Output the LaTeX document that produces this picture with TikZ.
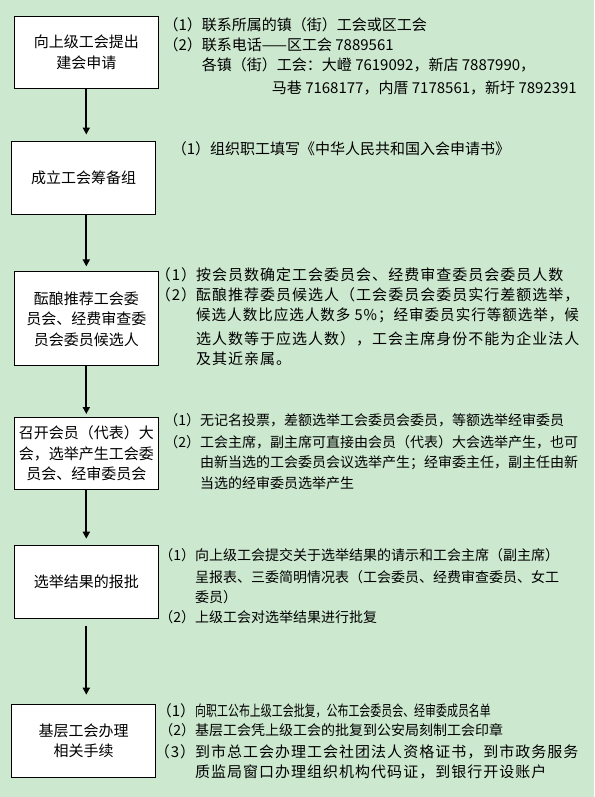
\documentclass[tikz,border=0pt]{standalone}
\usepackage{fontspec}
\usepackage{graphicx}
\newfontfamily\cjk{Noto Sans CJK SC}
\newfontfamily\cjkwide[LetterSpace=6.7]{Noto Sans CJK SC}
\usetikzlibrary{arrows.meta,positioning}
\definecolor{paper}{HTML}{CCE8CF}
\tikzset{
  block/.style     = {draw, line width=1pt, fill=white, rectangle, minimum width=144pt,
                      align=center, inner sep=0pt, font=\cjk\fontsize{15pt}{20.5pt}\selectfont},
  note/.style      = {anchor=base west, align=left, inner sep=0pt,
                      font=\cjk\fontsize{15pt}{20pt}\selectfont},
  widenote/.style  = {note, font=\cjkwide\fontsize{15pt}{20pt}\selectfont},
  tightnote/.style = {note, font=\cjk\fontsize{14pt}{20pt}\selectfont},
  sig/.style       = {-{Triangle[length=7pt,width=7pt]}, line width=2pt, shorten >=6pt},
}
\newcommand{\itm}[1]{\llap{（#1）}}

\begin{document}
\begin{tikzpicture}[x=1pt,y=-1pt]
\useasboundingbox[fill=paper] (0,0) rectangle (594,797);
% steps
\node[block, minimum height=72pt] (apply)    at (86.3,52.2)  {向上级工会提出\\建会申请};
\node[block, minimum height=73pt] (prep)     at (83.7,177.5) {成立工会筹备组};
\node[block, minimum height=94pt] (nominate) at (86.3,318.9) {酝酿推荐工会委\\员会、经费审查委\\员会委员候选人};
\node[block, minimum height=72pt] (congress) at (86.3,453.5) {召开会员（代表）大\\会，选举产生工会委\\员会、经审委员会};
\node[block, minimum height=73pt] (report)   at (86.3,581.7) {选举结果的报批};
\node[block, minimum height=73pt] (register) at (83.7,740.7) {基层工会办理\\相关手续};
\draw[sig] (apply.south) -- (apply.south |- prep.north);
\draw[sig, shorten >=5pt] (apply.south |- prep.south) -- (apply.south |- nominate.north);
\draw[sig, shorten >=3pt] (nominate.south) -- (congress.north);
\draw[sig] (congress.south) -- (report.north);
\draw[sig, shorten <=7pt, shorten >=9pt] (report.south) -- (apply.south |- register.north);
% notes (multi-line notes sit on the baseline of their last line)
\node[note] (n1a) at (201.7,30.7) {\itm{1}联系所属的镇（街）工会或区工会};
\node[note] (n1b) at (201.7,94) {\itm{2}联系电话——区工会 7889561\\
  各镇（街）工会：大嶝 7619092，新店 7887990，\\[3.3pt]
  \hspace*{70pt}马巷 7168177，内厝 7178561，新圩 7892391};
\node[note] (n2a) at (210,154) {\itm{1}组织职工填写《中华人民共和国入会申请书》};
\node[widenote] (n3a) at (196,280.7) {\itm{1}按会员数确定工会委员会、经费审查委员会委员人数};
\node[widenote] (n3b) at (196,364) {\itm{2}酝酿推荐委员候选人（工会委员会委员实行差额选举，\\
  \scalebox{0.97}[1]{候选人数比应选人数多 5\%；经审委员实行等额选举，候}\\[3.3pt]
  选人数等于应选人数），工会主席身份不能为企业法人\\
  及其近亲属。};
\node[tightnote] (n4a) at (200,425.6) {\itm{1}无记名投票，差额选举工会委员会委员，等额选举经审委员};
\node[tightnote] (n4b) at (200,488.3) {\itm{2}工会主席，副主席可直接由会员（代表）大会选举产生，也可\\
  由新当选的工会委员会议选举产生；经审委主任，副主任由新\\[1pt]
  当选的经审委员选举产生};
\node[tightnote] (n5a) at (195,602.3) {\itm{1}向上级工会提交关于选举结果的请示和工会主席（副主席）\\[1.7pt]
  呈报表、三委简明情况表（工会委员、经费审查委员、女工\\
  委员）};
\node[tightnote] (n5b) at (195,622.3) {\itm{2}上级工会对选举结果进行批复};
\node[note] (n6a) at (195,716) {\itm{1}\scalebox{0.73}[1]{向职工公布上级工会批复，公布工会委员会、经审委成员名单}};
\node[tightnote] (n6b) at (195,735.6) {\itm{2}基层工会凭上级工会的批复到公安局刻制工会印章};
\node[widenote] (n6c) at (195,777.7) {\itm{3}到市总工会办理工会社团法人资格证书，到市政务服务\\
  质监局窗口办理组织机构代码证，到银行开设账户};
\end{tikzpicture}
\end{document}
